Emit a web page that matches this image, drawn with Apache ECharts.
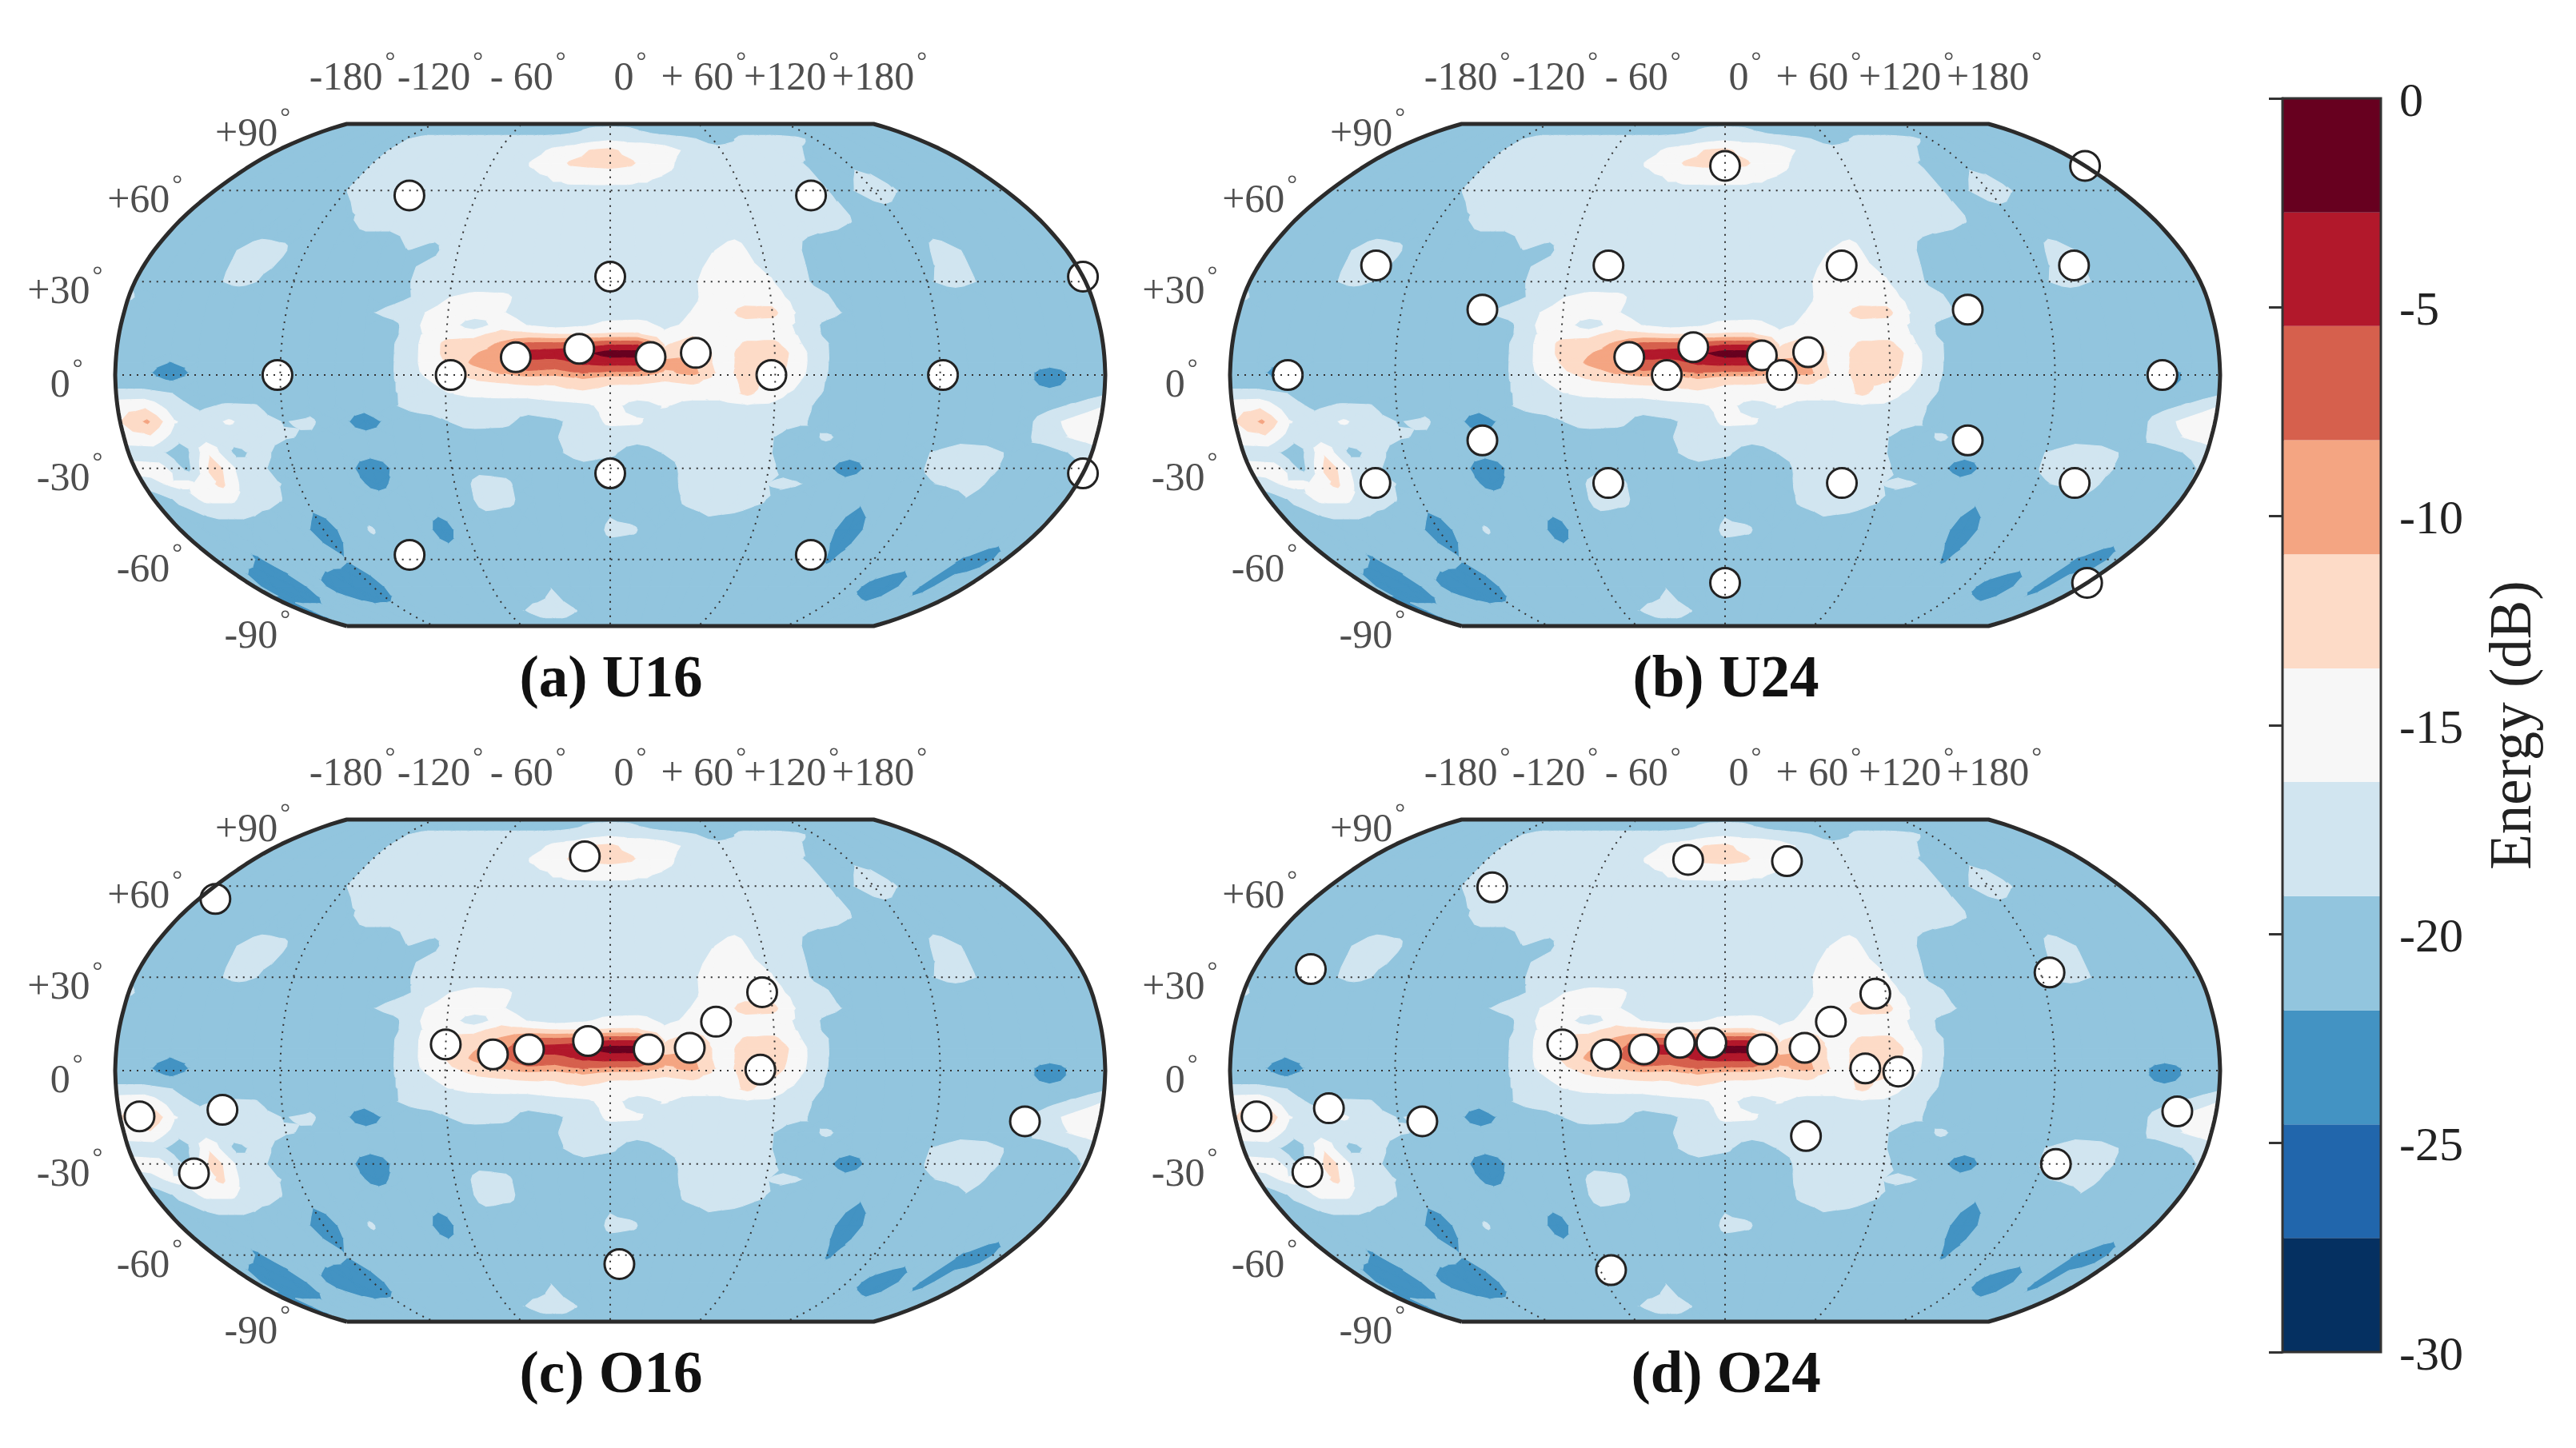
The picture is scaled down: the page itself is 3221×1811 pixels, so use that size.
<!DOCTYPE html>
<html>
<head>
<meta charset="utf-8">
<style>html,body{margin:0;padding:0;background:#fff}#main{width:3221px;height:1811px}</style>
<script src="https://cdn.jsdelivr.net/npm/echarts@6/dist/echarts.min.js"></script>
</head>
<body>
<div id="main"></div>
<script>
// energy on a lon/lat grid (dB); same field in all four panels
var gridLons = [-180,-170,-160,-150,-140,-130,-120,-110,-100,-90,-80,-70,-60,-50,-40,-30,-20,-10,0,10,20,30,40,50,60,70,80,90,100,110,120,130,140,150,160,170,180];
var gridLats = [90,85,80,75,70,60,50,40,30,25,20,16,13,10,7,4,1,-2,-6,-10,-15,-20,-25,-30,-35,-40,-50,-60,-70,-80,-90];
var energy = [
[-21,-21,-21,-21,-21,-21,-21,-21,-21,-21,-21,-21,-21,-21,-21,-21,-21,-21,-21,-21,-21,-21,-21,-21,-21,-21,-21,-21,-21,-21,-21,-21,-21,-21,-21,-21,-21],
[-21,-21,-21,-21,-21,-21,-21,-21,-21,-21,-21,-21,-21,-21,-21,-20.5,-19.5,-18,-17.5,-18,-19.5,-21,-21,-21,-21,-21,-21,-21,-21,-21,-21,-21,-21,-21,-21,-21,-21],
[-21,-21,-21,-21,-21,-21,-19.3,-18,-18,-18,-18,-18,-18,-18,-18,-18,-18,-17.5,-16.9,-17.3,-17.2,-17.5,-18.3,-19,-20.5,-19.5,-18,-18,-18,-18.5,-20,-21,-21,-21,-21,-21,-21],
[-21,-21,-21,-21,-21,-21,-19.1,-18,-18,-18,-18,-18,-18,-18,-17,-15.8,-15,-13.4,-13,-14.5,-15,-15.5,-16.6,-18,-18,-18,-18,-18,-18.5,-20,-21,-21,-21,-21,-21,-21,-21],
[-21,-21,-21,-21,-21,-21,-19.1,-18,-18,-18,-18,-18,-18,-18,-16.2,-15.5,-13.3,-13,-12.8,-13.2,-15,-16,-17.5,-18,-18,-18,-18,-18.5,-19.3,-21,-19.7,-19.7,-21,-21,-21,-21,-21],
[-21,-21,-21,-21,-21,-21,-19.1,-18,-18,-18,-18,-18,-18,-18,-17.4,-17.3,-17.3,-17.3,-17.3,-17.3,-17.3,-17.4,-18,-18,-18,-18,-18,-18,-19.2,-19.3,-17.5,-19,-21,-21,-21,-21,-21],
[-21,-21,-21,-21,-21,-21,-21,-19.5,-18,-18,-18,-18,-18,-18,-18,-18,-18,-18,-18,-18,-18,-18,-18,-18,-18,-18,-18,-18,-18.9,-21,-21,-21,-21,-21,-21,-21,-21],
[-21,-21,-21,-19.5,-18,-18.5,-21,-21,-21,-21,-19.1,-19.5,-18,-18,-18,-18,-18,-18,-18,-18,-18,-17.8,-16.5,-15.5,-17.8,-18,-20,-21,-21,-21,-21,-18,-19.3,-21,-21,-21,-21],
[-19.5,-21,-21,-19.5,-18.3,-19.6,-21,-21,-21,-21,-20,-18,-18,-18,-18,-18,-18,-18,-18,-18,-18,-17,-15,-15,-16,-18,-20,-21,-21,-21,-19.5,-18,-19.3,-21,-21,-21,-21],
[-18.6,-21,-21,-21,-21,-21,-21,-21,-21,-21,-20,-18.4,-16.4,-15.6,-15.8,-17.6,-18,-18,-18,-18,-18,-17,-15,-14.8,-15,-17.6,-18.6,-21,-21,-21,-21,-21,-21,-21,-21,-21,-21],
[-21,-21,-21,-21,-21,-21,-21,-21,-21,-19.6,-18,-16.6,-15,-15,-16.2,-17.5,-18,-18,-18,-18,-17.6,-16.3,-15,-12.8,-12.8,-17,-18,-20,-21,-21,-21,-21,-21,-21,-21,-21,-21],
[-21,-21,-21,-21,-21,-21,-21,-21,-21,-21,-20,-16.4,-15,-18,-15,-16.5,-17.5,-16.8,-15.5,-15.2,-17,-15.8,-15,-14.6,-15,-17,-20,-21,-21,-21,-21,-21,-21,-21,-21,-21,-21],
[-21,-21,-21,-21,-21,-21,-21,-21,-21,-21,-20,-16.6,-14.5,-14.5,-12.5,-13,-13.6,-13.6,-13.3,-13.3,-15.8,-14,-15,-14.5,-14.8,-16.8,-20,-21,-21,-21,-21,-21,-21,-21,-21,-21,-21],
[-21,-21,-21,-21,-21,-21,-21,-21,-21,-21,-19.5,-16.4,-13,-12.5,-10.5,-7.5,-7.5,-7,-6,-6,-14,-12.3,-15,-13.3,-13,-16.4,-19.1,-21,-21,-21,-21,-21,-21,-21,-21,-21,-21],
[-21,-21,-21,-21,-21,-21,-21,-21,-21,-21,-19.5,-16.4,-13,-11.2,-9.5,-4.5,-4,-3.5,-1.5,-1.5,-13,-10.5,-15,-12.5,-11.5,-15.8,-19.1,-21,-21,-21,-21,-21,-21,-21,-21,-21,-21],
[-21,-21,-21.9,-21,-21,-21,-21,-21,-21,-21,-19.5,-16.4,-13.6,-10.5,-9,-6,-6.5,-5,-4.5,-4.5,-10,-10.5,-15,-12.5,-12,-15.8,-19.3,-21,-21,-21,-21,-21,-21,-21,-21,-21,-21],
[-21,-21,-23.5,-21,-21,-21,-21,-21,-21,-21,-19.5,-16.6,-14.5,-12.5,-10.7,-9,-9.5,-8,-8.9,-9,-11.5,-10,-14.5,-12.8,-12.5,-16,-19.4,-21,-21,-21,-21,-21,-21,-21,-23,-21,-21],
[-21,-21,-22,-21,-21,-21,-21,-21,-21,-21,-19.5,-17,-15.5,-13.7,-13.2,-12.7,-13,-11.5,-13,-13,-13.5,-13,-14.8,-13,-13.5,-16.5,-19.6,-21,-21,-21,-21,-21,-21,-21,-23,-21,-21],
[-18,-18,-19,-21,-21,-21,-21,-21,-21,-21,-19.5,-18,-16.6,-15.8,-15.5,-15.5,-14.8,-14.5,-15,-15.2,-15.5,-15.2,-15.2,-13.2,-15.5,-17.5,-19.8,-21,-21,-21,-21,-21,-21,-21,-21,-21,-19.5],
[-14.8,-14.3,-17.8,-19.7,-18.6,-18.8,-21,-20,-21,-21,-19.5,-18,-18,-18,-18,-18,-17.5,-17,-15.5,-17.5,-16.2,-17.5,-17.5,-16.8,-17,-18,-21,-21,-21,-21,-21,-21,-21,-21,-20,-18.5,-16.5],
[-13.7,-10.5,-16.2,-17.8,-16,-18,-19.2,-18.7,-21,-23,-21,-20.5,-19.2,-18,-18.3,-20,-19.5,-18,-15.8,-16,-18,-18,-18,-18,-18,-18.5,-21,-21,-21,-21,-21,-21,-21,-21,-17.5,-15.5,-13.7],
[-14.8,-14.2,-18,-17.5,-18,-18,-18.9,-19.5,-21,-21,-21,-21,-20,-20.5,-20.5,-20.5,-19.2,-18,-18,-18,-18,-18,-18,-18,-19,-21,-18.5,-21,-21,-21,-21,-20,-20,-21,-17.8,-16.3,-15],
[-18,-18,-21,-14.2,-19.8,-18.2,-21,-21,-21,-21,-21,-21,-21,-21,-21,-21,-19.5,-18,-18.6,-20.5,-19,-18,-18,-18,-19,-21,-21,-21,-21,-21,-19,-18,-18.4,-19.4,-21,-19.3,-17.7],
[-15,-15.5,-20,-12,-17.5,-19.1,-21,-21,-21,-23.5,-21,-21,-21,-20,-20,-21,-20.5,-20,-20.5,-20.5,-20.5,-18,-18,-18,-18.4,-21,-21,-23,-21,-21,-18.9,-18,-18,-19.5,-21,-21,-18.8],
[-18,-16,-16,-13,-18,-18.7,-20,-21,-21,-22.5,-21,-21,-21,-18,-18.6,-21,-21,-21,-21,-21,-21,-18,-18,-18,-19,-18.6,-20,-21,-21,-21,-19.5,-18.8,-18,-20.5,-21,-21,-19],
[-21,-18.5,-15.8,-15.8,-18,-19,-21,-21,-21,-21,-21,-21,-21,-18,-18.5,-21,-21,-21,-20,-21,-21,-18.6,-18,-18,-18.8,-21,-21,-21,-21.5,-21,-21,-21,-19.3,-21,-21,-21,-21],
[-21,-21,-21,-21,-21,-21,-23,-21,-18.8,-21,-21,-22.5,-21,-21,-21,-21,-21,-21,-18.5,-18.8,-21,-21,-20,-20.5,-21,-21,-21,-21,-23,-21,-21,-21,-21,-21,-21,-21,-21],
[-21,-21,-22,-21,-21,-21,-21.7,-21,-21,-21,-21,-21,-21,-21,-21,-21,-21,-21,-21,-21,-21,-21,-21,-21,-21,-21,-21,-21,-22,-21,-21,-21,-21,-21,-21.9,-22.5,-21],
[-21,-23.5,-23.5,-21,-22.3,-23.5,-23,-21,-21,-21,-21,-21,-21,-21,-21,-19.2,-21,-21,-21,-21,-21,-21,-21,-21,-21,-21,-21,-21,-21,-21,-21,-22.2,-23,-21,-22.3,-21,-21],
[-23,-21,-21,-21,-21,-21,-21,-21,-21,-21,-21,-21,-21,-19.1,-18,-18,-19,-21,-21,-21,-21,-21,-21,-21,-21,-21,-21,-21,-21,-21,-21,-21,-21,-21,-21,-21,-21],
[-21,-21,-21,-21,-21,-21,-21,-21,-21,-21,-21,-21,-21,-21,-21,-21,-21,-21,-21,-21,-21,-21,-21,-21,-21,-21,-21,-21,-21,-21,-21,-21,-21,-21,-21,-21,-21]
];

// loudspeaker positions per layout (deg)
var u16Lon = [-90,90,0,180,-121,-58,-34.4,-11.3,14.7,31.2,58.6,121,0,180,-90,90];
var u16Lat = [58.3,58.3,31.6,31.6,0,0,5.7,8.4,5.8,7.1,0,0,-31.6,-31.6,-58.4,-58.4];
var u24Lon = [0,180,-134.7,-45,45,134.7,-90,90,-159,159,-34.9,-11.6,13.4,30.3,-21.2,20.6,-90,90,-134.7,-45,45,134.7,0,180];
var u24Lat = [69,69,35.2,35.2,35.2,35.2,21,21,0,0,5.8,8.9,6.3,7.3,0,0,-21,-21,-34.7,-34.7,-34.7,-34.7,-68.5,-68.5];
var o16Lon = [-13,-172.8,56.8,38.9,-60,-42.7,-29.6,-8.1,14,29,54.6,-172.8,-142,-159.3,152.6,4.3];
var o16Lat = [71,55.6,25.2,15.7,8.4,5.2,6.8,9.5,6.8,7.3,0.5,-14.7,-12.6,-33,-16.3,-63.2];
var o24Lon = [-18.6,31,-105.6,-158.3,123.5,56.1,38.9,-59.4,-43.3,-29.6,-16.5,-5,13.5,29,51,63,30,-172,-145,-111.4,-159.6,125.3,165.7,-54.8];
var o24Lat = [69.6,69.1,59.6,32.6,31.5,24.7,15.7,8.4,5.2,6.8,8.9,8.9,6.8,7.3,1,-0.5,-21,-14.7,-12.1,-16.3,-32.6,-30,-13.1,-65.4];

var panelTitles = ['(a) U16','(b) U24','(c) O16','(d) O24'];
var latTicks = [90,60,30,0,-30,-60,-90];
var latTickText = ['+90','+60','+30','0','-30','-60','-90'];
var lonTicks = [-180,-120,-60,0,60,120,180];
var lonTickText = ['-180','-120','- 60','0','+ 60','+120','+180'];

// colour levels, 11 bands between -30 and 0 dB
var levels = [-30,-27.27,-24.55,-21.82,-19.09,-16.36,-13.64,-10.91,-8.18,-5.45,-2.73,0];
var bandColors = ['#053061','#2166ac','#4393c3','#92c5de','#d1e5f0','#f7f7f7','#fddbc7','#f4a582','#d6604d','#b2182b','#67001f'];

var FONT = 'Liberation Serif';
var INK = '#222';

// Robinson tables, 5 degree steps
var robX = [1,.9986,.9954,.99,.9822,.973,.96,.9427,.9216,.8962,.8679,.835,.7986,.7597,.7186,.6732,.6213,.5722,.5322];
var robY = [0,.062,.124,.186,.248,.31,.372,.434,.4958,.5571,.6176,.6769,.7346,.7903,.8435,.8936,.9394,.9761,1];

function tabLookup(tab, lat) {
    var a = Math.min(Math.abs(lat) / 5, 18);
    var i = Math.min(Math.floor(a), 17), t = a - i;
    var p0 = tab[Math.max(i - 1, 0)], p1 = tab[i], p2 = tab[i + 1], p3 = tab[Math.min(i + 2, 18)];
    return p1 + 0.5 * t * (p2 - p0 + t * (2 * p0 - 5 * p1 + 4 * p2 - p3 + t * (3 * (p1 - p2) + p3 - p0)));
}
// axes: x is lon scaled by the parallel length, y is the signed Robinson height
function project(lon, lat) {
    return [lon * tabLookup(robX, lat), (lat < 0 ? -1 : 1) * tabLookup(robY, lat)];
}

// clip a polygon of [lon, lat, value] to value>=lim (sign 1) or value<=lim (sign -1)
function clipValue(poly, lim, sign) {
    var out = [];
    for (var i = 0; i < poly.length; i++) {
        var a = poly[i], b = poly[(i + 1) % poly.length];
        var da = (a[2] - lim) * sign, db = (b[2] - lim) * sign;
        if (da >= 0) out.push(a);
        if ((da >= 0) !== (db >= 0)) {
            var t = da / (da - db);
            out.push([a[0] + t * (b[0] - a[0]), a[1] + t * (b[1] - a[1]), a[2] + t * (b[2] - a[2])]);
        }
    }
    return out;
}
function bandOf(v) {
    for (var k = 0; k < bandColors.length; k++) if (v < levels[k + 1]) return k;
    return bandColors.length - 1;
}
function polyShape(poly, api) {
    var pts = [];
    for (var i = 0; i < poly.length; i++) {
        var a = poly[i], b = poly[(i + 1) % poly.length];
        // the outer edge is curved on the map, so split it up
        var n = (Math.abs(a[0]) === 180 && a[0] === b[0]) ? 8 : 1;
        for (var s = 0; s < n; s++) {
            pts.push(api.coord(project(a[0], a[1] + (b[1] - a[1]) * s / n)));
        }
    }
    return pts;
}
function polyItem(poly, k, api) {
    return {
        type: 'polygon', silent: true,
        shape: { points: polyShape(poly, api) },
        style: { fill: bandColors[k], stroke: bandColors[k], lineWidth: 1.2 }
    };
}
function renderCell(params, api) {
    var c = api.value(0), r = api.value(1);
    var lo0 = gridLons[c], lo1 = gridLons[c + 1], la0 = gridLats[r], la1 = gridLats[r + 1];
    var v00 = energy[r][c], v10 = energy[r][c + 1], v01 = energy[r + 1][c], v11 = energy[r + 1][c + 1];
    var corners = [[lo0, la0, v00], [lo1, la0, v10], [lo1, la1, v11], [lo0, la1, v01]];
    var children = [];
    var b = bandOf(v00);
    if (bandOf(v10) === b && bandOf(v01) === b && bandOf(v11) === b) {
        children.push(polyItem(corners, b, api));
    } else {
        var mid = [(lo0 + lo1) / 2, (la0 + la1) / 2, (v00 + v10 + v01 + v11) / 4];
        for (var t = 0; t < 4; t++) {
            var tri = [corners[t], corners[(t + 1) % 4], mid];
            for (var k = 0; k < bandColors.length; k++) {
                var p = clipValue(tri, levels[k], 1);
                if (p.length) p = clipValue(p, levels[k + 1], -1);
                if (p.length > 2) children.push(polyItem(p, k, api));
            }
        }
    }
    return { type: 'group', children: children };
}

var cells = [];
for (var r = 0; r < gridLats.length - 1; r++) {
    for (var c = 0; c < gridLons.length - 1; c++) cells.push([c, r]);
}

function parallelLine(lat) {
    var d = [];
    for (var lon = -180; lon <= 180; lon += 10) d.push(project(lon, lat));
    return d;
}
function meridianLine(lon, latMax) {
    var d = [];
    for (var lat = -latMax; lat <= latMax; lat += 2) d.push(project(lon, lat));
    return d;
}
function frameLine() {
    var d = meridianLine(-180, 90);
    var e = meridianLine(180, 90).reverse();
    return d.concat(e, [d[0]]);
}
function degLabel(s) {
    return '{t|' + s + '}{d|°}';
}
var labelRich = {
    t: { fontFamily: FONT, fontSize: 50, color: INK },
    d: { fontFamily: FONT, fontSize: 32, color: INK, padding: [0, 0, 40, 3] }
};

var panels = [
    { left: 144, top: 155, lons: u16Lon, lats: u16Lat },
    { left: 1538, top: 155, lons: u24Lon, lats: u24Lat },
    { left: 144, top: 1025, lons: o16Lon, lats: o16Lat },
    { left: 1538, top: 1025, lons: o24Lon, lats: o24Lat }
];
var W = 1238, H = 628;

var grids = [], xAxes = [], yAxes = [], series = [], titles = [];
panels.forEach(function (p, i) {
    grids.push({ left: p.left, top: p.top, width: W, height: H });
    xAxes.push({ gridIndex: i, type: 'value', min: -180, max: 180, show: false });
    yAxes.push({ gridIndex: i, type: 'value', min: -1, max: 1, show: false });
    titles.push({
        text: panelTitles[i], left: p.left + W / 2 - 4, top: p.top + H + 64,
        textAlign: 'center', textVerticalAlign: 'middle',
        textStyle: { fontFamily: FONT, fontSize: 73, fontWeight: 'bold', color: '#111' }
    });
    var ax = { xAxisIndex: i, yAxisIndex: i };
    series.push(Object.assign({
        type: 'custom', coordinateSystem: 'cartesian2d', renderItem: renderCell,
        data: cells, z: 1, silent: true, progressive: 0, clip: false, animation: false
    }, ax));
    series.push(Object.assign({
        type: 'scatter', symbol: 'circle', symbolSize: 37, z: 2, silent: true,
        itemStyle: { color: '#fff', borderColor: '#222', borderWidth: 3, opacity: 1 },
        data: p.lons.map(function (lon, k) { return project(lon, p.lats[k]); })
    }, ax));
    var gLines = latTicks.slice(1, -1).map(parallelLine)
        .concat([-120, -60, 0, 60, 120].map(function (lon) { return meridianLine(lon, 88); }));
    gLines.forEach(function (d) {
        series.push(Object.assign({
            type: 'line', data: d, showSymbol: false, silent: true, z: 3, clip: false,
            lineStyle: { color: '#333', width: 2, type: [2, 7] }
        }, ax));
    });
    series.push(Object.assign({
        type: 'line', data: frameLine(), showSymbol: false, silent: true, z: 4, clip: false,
        lineStyle: { color: '#2b2b2b', width: 5 }
    }, ax));
    // latitude labels left of the frame
    series.push(Object.assign({
        type: 'scatter', symbolSize: 1, z: 5, silent: true, clip: false,
        itemStyle: { color: 'transparent' },
        data: latTicks.map(function (lat, k) {
            return {
                value: project(-180, lat),
                label: {
                    show: true, position: 'left', distance: Math.abs(lat) === 90 ? 70 : 40,
                    offset: [0, 14], formatter: degLabel(latTickText[k]), rich: labelRich
                }
            };
        })
    }, ax));
    // longitude labels in a row above the top edge
    series.push(Object.assign({
        type: 'scatter', symbolSize: 1, z: 5, silent: true, clip: false,
        itemStyle: { color: 'transparent' },
        data: lonTicks.map(function (lon, k) {
            return {
                value: project(lon, 90),
                label: {
                    show: true, position: 'inside', offset: [lon === 0 ? 25 : 7, -56],
                    formatter: degLabel(lonTickText[k]), rich: labelRich
                }
            };
        })
    }, ax));
});

// colour bar
grids.push({ left: 2854, top: 123, width: 123, height: 1568, show: true, borderColor: '#333', borderWidth: 3, z: 5 });
xAxes.push({ gridIndex: 4, type: 'value', min: 0, max: 1, show: false });
yAxes.push({
    gridIndex: 4, type: 'value', min: -30, max: 0, interval: 5, position: 'right',
    axisLine: { show: true, lineStyle: { color: '#333', width: 3 } },
    axisTick: { show: true, inside: true, length: 17, lineStyle: { color: '#333', width: 3 } },
    splitLine: { show: false },
    axisLabel: {
        margin: 23, align: 'left',
        formatter: function (v) { return '{v|' + v + '}'; },
        rich: { v: { fontFamily: FONT, fontSize: 60, color: INK, padding: [12, 0, 0, 0] } }
    },
    name: 'Energy (dB)', nameLocation: 'middle', nameRotate: 90, nameGap: 131,
    nameTextStyle: { fontFamily: FONT, fontSize: 73, color: INK }
});
series.push({
    type: 'custom', coordinateSystem: 'cartesian2d', xAxisIndex: 4, yAxisIndex: 4, silent: true, z: 1,
    data: bandColors.map(function (col, k) { return [levels[k], levels[k + 1]]; }),
    renderItem: function (params, api) {
        var a = api.coord([0, api.value(1)]), b = api.coord([1, api.value(0)]);
        return {
            type: 'rect',
            shape: { x: a[0], y: a[1], width: b[0] - a[0], height: b[1] - a[1] },
            style: { fill: bandColors[params.dataIndex] }
        };
    }
});

var myChart = echarts.init(document.getElementById('main'), null, { renderer: 'canvas', devicePixelRatio: 1 });
myChart.setOption({
    backgroundColor: '#fff',
    animation: false,
    title: titles,
    grid: grids,
    xAxis: xAxes,
    yAxis: yAxes,
    series: series
});
</script>
</body>
</html>
